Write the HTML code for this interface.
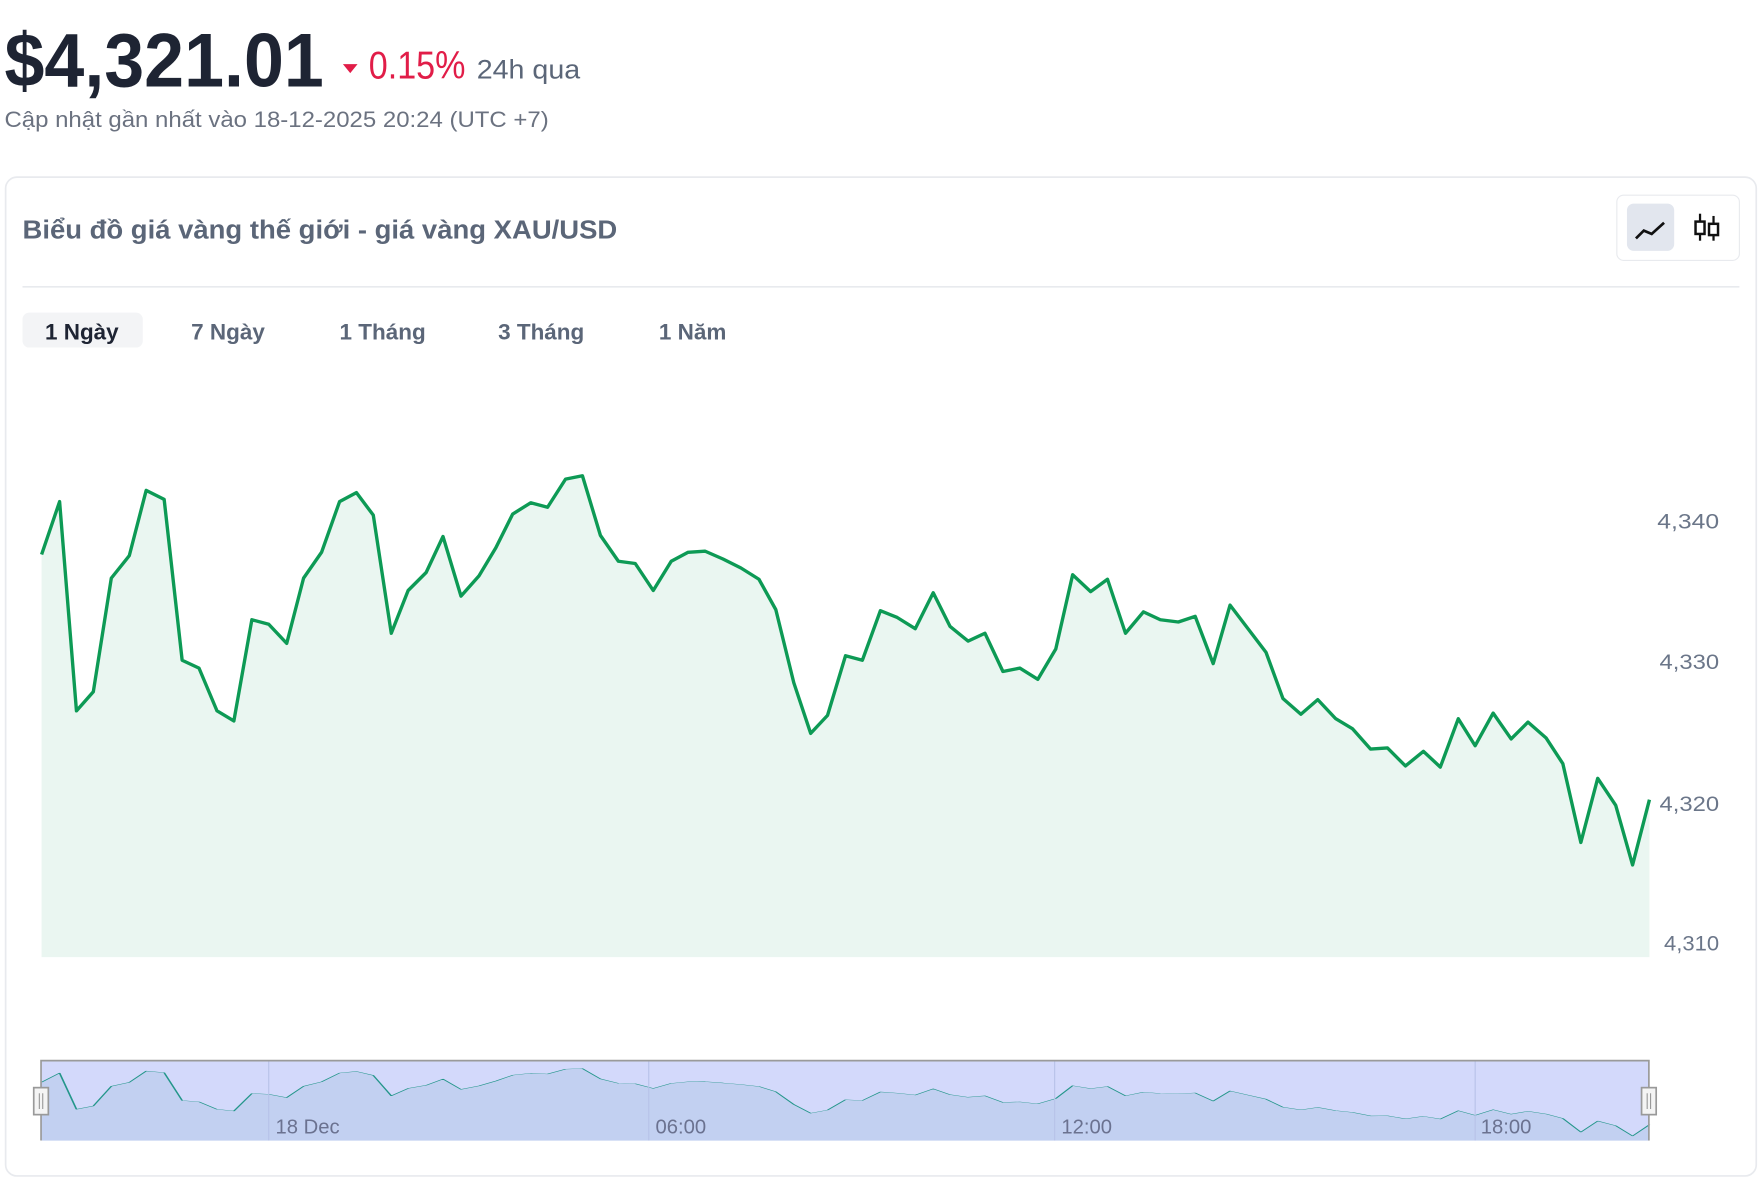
<!DOCTYPE html>
<html><head><meta charset="utf-8"><style>
html,body{margin:0;padding:0;background:#fff;}
svg{display:block;}
text{font-family:"Liberation Sans",sans-serif;}
</style></head><body>
<svg width="1763" height="1181" viewBox="0 0 1568 1050" preserveAspectRatio="none" xmlns="http://www.w3.org/2000/svg">
<defs>
<polyline id="ln" points="37,493 53,446 68,632 83,615 99,514 115,494 130,436 146,444 162,587 177,594 193,632 208,641 224,551 239,555 255,572 270,514 286,491 302,446 317,438 332,458 348,563 363,525 379,509 394,477 410,530 426,512 441,487 456,457 472,447 487,451 503,426 518,423 534,476 550,499 565,501 581,525 597,499 612,491 627,490 643,497 659,505 675,515 690,542 706,607 721,652 736,636 752,583 767,587 783,543 798,549 814,559 830,527 845,557 861,570 876,563 892,597 907,594 923,604 939,577 954,511 970,526 985,515 1001,563 1017,544 1032,551 1048,553 1063,548 1079,590 1094,538 1110,559 1126,580 1141,621 1157,635 1172,622 1188,639 1203,648 1219,666 1234,665 1250,681 1266,668 1281,682 1297,639 1312,663 1328,634 1344,657 1359,642 1375,656 1390,679 1406,749 1421,692 1437,716 1452,769 1467,711"/>
</defs>
<!-- header -->
<text x="4" y="77" font-size="68" font-weight="bold" fill="#1e2433" textLength="284" lengthAdjust="spacingAndGlyphs">$4,321.01</text>
<polygon points="305,57 318,57 311.5,65" fill="#e11d48"/>
<text x="328" y="70" font-size="35" fill="#e11d48" textLength="86" lengthAdjust="spacingAndGlyphs">0.15%</text>
<text x="424" y="70" font-size="24" fill="#5b6678" textLength="92" lengthAdjust="spacingAndGlyphs">24h qua</text>
<text x="4" y="113" font-size="20" fill="#6b7280" textLength="484" lengthAdjust="spacingAndGlyphs">Cập nhật gần nhất vào 18-12-2025 20:24 (UTC +7)</text>
<!-- card -->
<rect x="5" y="157.5" width="1557" height="888" rx="10" fill="#fff" stroke="#e8eaee" stroke-width="1.5"/>
<text x="20" y="212" font-size="23" fill="#5b6678" font-weight="bold" textLength="529" lengthAdjust="spacingAndGlyphs">Biểu đồ giá vàng thế giới - giá vàng XAU/USD</text>
<rect x="1438" y="173.5" width="109" height="58" rx="6" fill="#fff" stroke="#e8eaee"/>
<rect x="1447" y="181" width="42" height="42" rx="6" fill="#e2e6ee"/>
<polyline points="1455,212 1462,205 1469,208 1480,198" fill="none" stroke="#111" stroke-width="2.4"/>
<line x1="1512" y1="190" x2="1512" y2="214" stroke="#111" stroke-width="2"/>
<rect x="1508" y="197" width="8" height="11" fill="#fff" stroke="#111" stroke-width="2.2"/>
<line x1="1524" y1="192" x2="1524" y2="214" stroke="#111" stroke-width="2"/>
<rect x="1520" y="199" width="8" height="10" fill="#fff" stroke="#111" stroke-width="2.2"/>
<line x1="20" y1="255" x2="1547" y2="255" stroke="#e8eaee" stroke-width="1.5"/>
<!-- tabs -->
<rect x="20" y="278" width="107" height="31" rx="6" fill="#f3f4f6"/>
<text x="40" y="302" font-size="20" font-weight="bold" fill="#1e2433">1 Ngày</text>
<text x="170" y="302" font-size="20" font-weight="bold" fill="#5b6678">7 Ngày</text>
<text x="302" y="302" font-size="20" font-weight="bold" fill="#5b6678">1 Tháng</text>
<text x="443" y="302" font-size="20" font-weight="bold" fill="#5b6678">3 Tháng</text>
<text x="586" y="302" font-size="20" font-weight="bold" fill="#5b6678">1 Năm</text>
<!-- main area -->
<polygon points="37,851 37,493 53,446 68,632 83,615 99,514 115,494 130,436 146,444 162,587 177,594 193,632 208,641 224,551 239,555 255,572 270,514 286,491 302,446 317,438 332,458 348,563 363,525 379,509 394,477 410,530 426,512 441,487 456,457 472,447 487,451 503,426 518,423 534,476 550,499 565,501 581,525 597,499 612,491 627,490 643,497 659,505 675,515 690,542 706,607 721,652 736,636 752,583 767,587 783,543 798,549 814,559 830,527 845,557 861,570 876,563 892,597 907,594 923,604 939,577 954,511 970,526 985,515 1001,563 1017,544 1032,551 1048,553 1063,548 1079,590 1094,538 1110,559 1126,580 1141,621 1157,635 1172,622 1188,639 1203,648 1219,666 1234,665 1250,681 1266,668 1281,682 1297,639 1312,663 1328,634 1344,657 1359,642 1375,656 1390,679 1406,749 1421,692 1437,716 1452,769 1467,711 1467,851" fill="#eaf6f1"/>
<use href="#ln" fill="none" stroke="#0d9a55" stroke-width="3" stroke-linejoin="round"/>
<g font-size="19" fill="#6b7689">
<text x="1474" y="470" textLength="55" lengthAdjust="spacingAndGlyphs">4,340</text>
<text x="1476" y="595" textLength="53" lengthAdjust="spacingAndGlyphs">4,330</text>
<text x="1476" y="721" textLength="53" lengthAdjust="spacingAndGlyphs">4,320</text>
<text x="1480" y="845" textLength="49" lengthAdjust="spacingAndGlyphs">4,310</text>
</g>
<!-- navigator -->
<rect x="37" y="943" width="1430" height="71" fill="#d3d9fb"/>
<g transform="translate(0,876.65) scale(1,0.1734)">
<polygon points="37,793 37,493 53,446 68,632 83,615 99,514 115,494 130,436 146,444 162,587 177,594 193,632 208,641 224,551 239,555 255,572 270,514 286,491 302,446 317,438 332,458 348,563 363,525 379,509 394,477 410,530 426,512 441,487 456,457 472,447 487,451 503,426 518,423 534,476 550,499 565,501 581,525 597,499 612,491 627,490 643,497 659,505 675,515 690,542 706,607 721,652 736,636 752,583 767,587 783,543 798,549 814,559 830,527 845,557 861,570 876,563 892,597 907,594 923,604 939,577 954,511 970,526 985,515 1001,563 1017,544 1032,551 1048,553 1063,548 1079,590 1094,538 1110,559 1126,580 1141,621 1157,635 1172,622 1188,639 1203,648 1219,666 1234,665 1250,681 1266,668 1281,682 1297,639 1312,663 1328,634 1344,657 1359,642 1375,656 1390,679 1406,749 1421,692 1437,716 1452,769 1467,711 1467,793" fill="#c2d0f1"/>
<use href="#ln" fill="none" stroke="#23968a" stroke-width="1.6" vector-effect="non-scaling-stroke" stroke-linejoin="round"/>
</g>
<g stroke="#b7c2e8" stroke-width="1">
<line x1="239" y1="943" x2="239" y2="1014"/><line x1="577" y1="943" x2="577" y2="1014"/>
<line x1="938" y1="943" x2="938" y2="1014"/><line x1="1312" y1="943" x2="1312" y2="1014"/>
</g>
<g font-size="18" fill="#6b7290">
<text x="245" y="1008">18 Dec</text><text x="583" y="1008">06:00</text>
<text x="944" y="1008">12:00</text><text x="1317" y="1008">18:00</text>
</g>
<polyline points="36.5,1014 36.5,943 1466.5,943 1466.5,1014" fill="none" stroke="#9a9a9a" stroke-width="1.5"/>
<rect x="30" y="967" width="13" height="24" fill="#f4f4f4" stroke="#999" stroke-width="1.5"/>
<line x1="35" y1="972" x2="35" y2="986" stroke="#999"/><line x1="38" y1="972" x2="38" y2="986" stroke="#999"/>
<rect x="1460" y="967" width="13" height="24" fill="#f4f4f4" stroke="#999" stroke-width="1.5"/>
<line x1="1465" y1="972" x2="1465" y2="986" stroke="#999"/><line x1="1468" y1="972" x2="1468" y2="986" stroke="#999"/>
</svg>
</body></html>
